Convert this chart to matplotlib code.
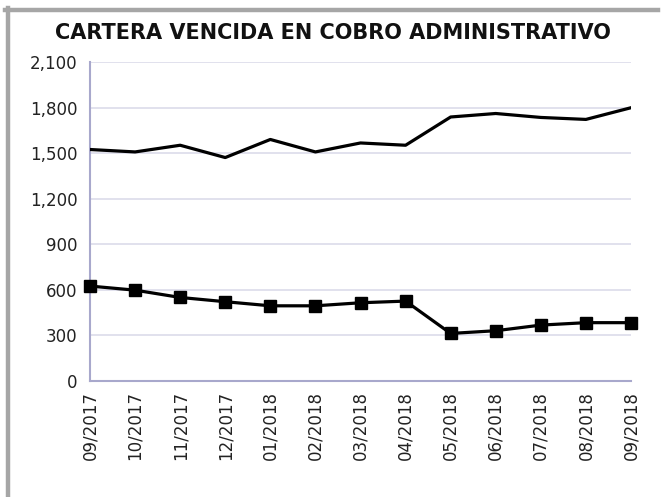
import matplotlib.pyplot as plt
from matplotlib.lines import Line2D

# Datos
meses = ["09/2017", "10/2017", "11/2017", "12/2017", "01/2018", "02/2018", "03/2018",
         "04/2018", "05/2018", "06/2018", "07/2018", "08/2018", "09/2018"]
serie_superior = [1524, 1508, 1552, 1471, 1590, 1508, 1567, 1552, 1738, 1761, 1735, 1722, 1799]
serie_inferior = [625, 598, 550, 522, 495, 495, 515, 526, 313, 331, 368, 384, 384]
y_ticks = [0, 300, 600, 900, 1200, 1500, 1800, 2100]

W, H = 663, 497
fig = plt.figure(figsize=(W / 100, H / 100), dpi=100)
fig.patch.set_facecolor("white")

# Marco gris arriba y a la izquierda
fig.add_artist(Line2D([5 / W, 658 / W], [1 - 10 / H, 1 - 10 / H], color="#a6a6a6", lw=3.2))
fig.add_artist(Line2D([7.5 / W, 7.5 / W], [0, 1 - 8 / H], color="#a6a6a6", lw=3.2))

ax = fig.add_axes([90 / W, (H - 381) / H, (631 - 90) / W, (381 - 62) / H])
x = list(range(len(meses)))

ax.plot(x, serie_superior, color="black", lw=2.3, solid_joinstyle="round", zorder=3)
ax.plot(x, serie_inferior, color="black", lw=2.3, marker="s", markersize=8,
        solid_joinstyle="round", zorder=3, clip_on=False)

ax.set_xlim(0, len(meses) - 1)
ax.set_ylim(0, 2100)
ax.set_yticks(y_ticks)
ax.set_yticklabels([f"{v:,}" for v in y_ticks], fontsize=12, color="#222222")
ax.set_xticks(x)
ax.set_xticklabels(meses, rotation=90, fontsize=12, color="#222222")
ax.tick_params(length=0, pad=9)
ax.tick_params(axis="x", pad=7)

ax.grid(axis="y", color="#dcdcea", lw=1.2)
ax.set_axisbelow(True)
for s in ["top", "right"]:
    ax.spines[s].set_visible(False)
for s in ["left", "bottom"]:
    ax.spines[s].set_color("#a8a8cc")
    ax.spines[s].set_linewidth(1.5)

fig.text(333 / W, 1 - 33 / H, "CARTERA VENCIDA EN COBRO ADMINISTRATIVO",
         ha="center", va="center", fontsize=15, fontweight="bold", color="#111111")

fig.savefig("out.png", dpi=100)
